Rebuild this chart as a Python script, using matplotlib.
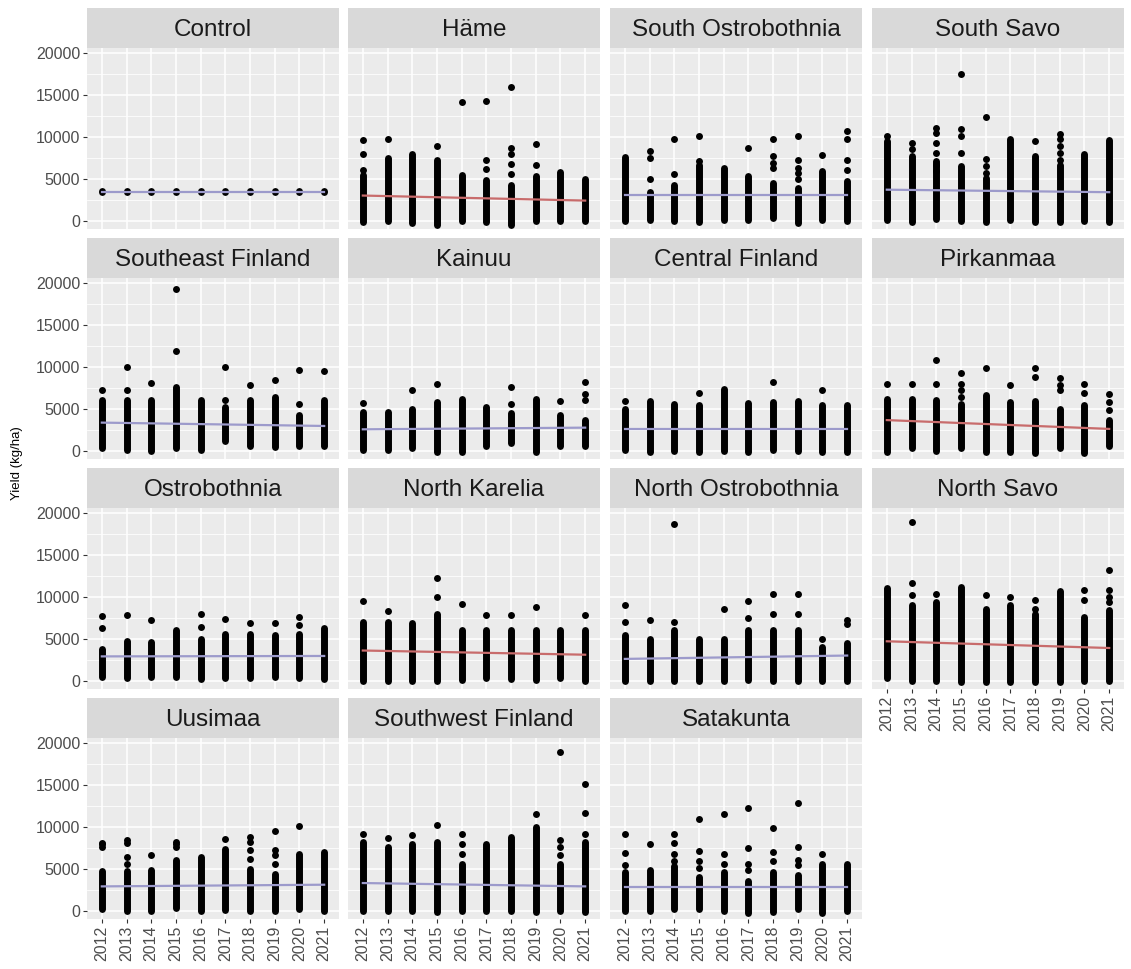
import matplotlib
matplotlib.use("Agg")
import matplotlib.pyplot as plt

plt.rcParams["font.family"] = ["Liberation Sans", "DejaVu Sans"]

years = [2012, 2013, 2014, 2015, 2016, 2017, 2018, 2019, 2020, 2021]
regions = ["Control", "Häme", "South Ostrobothnia", "South Savo",
           "Southeast Finland", "Kainuu", "Central Finland", "Pirkanmaa",
           "Ostrobothnia", "North Karelia", "North Ostrobothnia", "North Savo",
           "Uusimaa", "Southwest Finland", "Satakunta"]

# dense run of farm yields per year: lowest and highest value of the solid column
col_lo = {
    "Control": [3400, 3400, 3400, 3400, 3400, 3400, 3400, 3400, 3400, 3400],
    "Häme": [-100, 0, -300, -500, 0, -200, -500, 0, 0, 0],
    "South Ostrobothnia": [0, 100, 0, -200, 100, 100, 300, -300, 100, 0],
    "South Savo": [100, -100, 200, 0, -100, 100, -100, -200, 0, -200],
    "Southeast Finland": [300, 100, 0, 300, 100, 1100, 600, 400, 600, 600],
    "Kainuu": [100, 100, 300, -100, -200, 600, 900, -200, 600, 600],
    "Central Finland": [100, -200, 0, -200, 0, -100, 100, 0, -100, -200],
    "Pirkanmaa": [-100, 300, 0, 300, -200, -200, -300, 300, -300, 600],
    "Ostrobothnia": [400, 300, 500, 400, 200, 300, 300, 500, 300, 200],
    "North Karelia": [0, 0, 0, 0, 100, 300, 200, 100, 300, 0],
    "North Ostrobothnia": [0, 0, 0, 0, 0, 100, 0, 0, 0, 0],
    "North Savo": [300, 0, 0, -200, -200, -100, -200, -200, 0, 0],
    "Uusimaa": [200, 0, 0, 300, 0, 100, 0, 0, 200, 0],
    "Southwest Finland": [0, 0, 0, -200, 0, 0, 0, -200, 0, -200],
    "Satakunta": [0, 0, 200, 200, 0, -300, -200, 200, -300, 0],
}
col_hi = {
    "Control": [3500, 3500, 3500, 3500, 3500, 3500, 3500, 3500, 3500, 3500],
    "Häme": [5500, 7500, 7900, 7300, 5500, 4900, 4300, 5300, 5800, 5000],
    "South Ostrobothnia": [7600, 3400, 4300, 6600, 6300, 5300, 4500, 3900, 5900, 4700],
    "South Savo": [9500, 7700, 7100, 6500, 5100, 9800, 7700, 6700, 7900, 9600],
    "Southeast Finland": [6000, 6000, 6000, 7600, 6000, 5200, 6000, 6400, 4300, 6000],
    "Kainuu": [4600, 4600, 5000, 5800, 6200, 5200, 4500, 6200, 4300, 3700],
    "Central Finland": [5000, 5900, 5600, 5400, 7400, 5700, 5800, 5900, 5400, 5400],
    "Pirkanmaa": [6200, 6200, 6000, 5600, 6600, 5800, 5900, 5000, 5400, 3700],
    "Ostrobothnia": [3800, 4700, 4600, 6000, 5000, 5600, 5600, 5400, 5600, 6300],
    "North Karelia": [7000, 7000, 6900, 8000, 6000, 6000, 6000, 6000, 6000, 6000],
    "North Ostrobothnia": [5500, 5000, 6000, 5000, 5000, 6000, 6000, 6000, 4000, 4500],
    "North Savo": [11000, 9000, 9400, 11200, 8600, 9000, 8000, 10700, 7600, 8400],
    "Uusimaa": [4700, 4700, 4800, 6000, 6400, 7400, 5000, 4400, 6800, 7000],
    "Southwest Finland": [8200, 7600, 7900, 8200, 5600, 8000, 8800, 10000, 5600, 8200],
    "Satakunta": [4600, 4800, 5300, 4000, 4600, 3600, 4600, 4200, 5600, 5600],
}
# single yields standing apart from the column
extra = {
    "Control": [[], [], [], [], [], [], [], [], [], []],
    "Häme": [[6100, 8000, 9600], [9700], [], [8900], [14100], [6200, 7300, 14300],
             [5600, 6800, 8000, 8700, 15900], [6700, 9100], [], []],
    "South Ostrobothnia": [[], [5000, 7500, 8300], [5600, 9700], [7100, 10100], [], [8700],
                           [6300, 6900, 7700, 9700], [5000, 5700, 6300, 7300, 10100], [7800],
                           [6000, 7300, 9700, 10700]],
    "South Savo": [[10100], [8500, 9300], [5900, 6700, 8100, 9300, 10500, 11000],
                   [8100, 10100, 10900, 17500], [5700, 6500, 7400, 12400], [], [9500],
                   [7300, 8100, 8900, 9700, 10300], [], []],
    "Southeast Finland": [[7200], [7300, 10000], [8100], [11900, 19300], [], [6000, 10000],
                          [7800], [8400], [5600, 9600], [9500]],
    "Kainuu": [[5700], [], [7300], [8000], [], [], [5600, 7600], [], [5900], [6100, 6800, 8200]],
    "Central Finland": [[5900], [], [], [6900], [], [], [8200], [], [7200], []],
    "Pirkanmaa": [[7900], [7900], [7900, 10800], [6400, 7300, 7900, 9300], [9900], [7800],
                  [8800, 9900], [7200, 7800, 8700], [6900, 8000], [4800, 5800, 6800]],
    "Ostrobothnia": [[6300, 7700], [7800], [7300], [], [6400, 8000], [7400], [6900], [6900],
                     [6600, 7600], []],
    "North Karelia": [[9500], [8300], [], [10000, 12200], [9200], [7800], [7800], [8800], [],
                      [7800]],
    "North Ostrobothnia": [[7000, 9000], [7300], [7000, 18700], [], [8500], [7500, 9500],
                           [8000, 10300], [8000, 10300], [5000], [6800, 7300]],
    "North Savo": [[], [10200, 11600, 18900], [10300], [], [10200], [10000], [8600, 9600], [],
                   [9600, 10800], [9400, 10000, 10800, 13200]],
    "Uusimaa": [[7600, 7900, 8100], [5600, 6400, 8100, 8400], [6700], [7600, 7900, 8200], [],
                [8600], [6200, 7200, 8200, 8800], [5600, 6700, 7200, 9500], [10100], []],
    "Southwest Finland": [[9100], [8700], [9000], [10200], [6800, 7900, 9100], [], [],
                          [11500], [6600, 7600, 8400, 18900], [9200, 11700, 15100]],
    "Satakunta": [[5500, 6900, 9100], [7900], [5900, 6800, 8100, 9100], [5100, 5900, 7100, 10900],
                  [5600, 6800, 11500], [4900, 5600, 7500, 12300], [5900, 7000, 9900],
                  [5400, 6100, 7600, 12800], [6800], []],
}
# fitted trend at 2012 and 2021, and whether it is significant
trend = {
    "Control": (3450, 3450), "Häme": (3000, 2400), "South Ostrobothnia": (3050, 3050),
    "South Savo": (3700, 3400), "Southeast Finland": (3350, 2950), "Kainuu": (2550, 2750),
    "Central Finland": (2550, 2550), "Pirkanmaa": (3650, 2600), "Ostrobothnia": (2900, 2950),
    "North Karelia": (3600, 3100), "North Ostrobothnia": (2600, 3000), "North Savo": (4700, 3900),
    "Uusimaa": (2900, 3100), "Southwest Finland": (3300, 2900), "Satakunta": (2800, 2800),
}
significant = ["Häme", "Pirkanmaa", "North Karelia", "North Savo"]

W, H = 1131, 969
fig = plt.figure(figsize=(W / 100, H / 100), dpi=100)


def px_axes(x, y, w, h):
    return fig.add_axes([x / W, 1 - (y + h) / H, w / W, h / H])


col_x = [87, 348, 610, 872]
row_y = [48, 278, 508, 738]
pw, ph, sh = 252, 181, 40
dot = 5.0

for i, name in enumerate(regions):
    r, c = divmod(i, 4)
    ax = px_axes(col_x[c], row_y[r], pw, ph)
    ax.set_facecolor("#EBEBEB")
    for s in ax.spines.values():
        s.set_visible(False)
    ax.set_xlim(2011.4, 2021.6)
    ax.set_ylim(-990, 20600)
    ax.set_xticks(years)
    ax.set_xticklabels([str(y) for y in years], rotation=90)
    ax.set_yticks([0, 5000, 10000, 15000, 20000])
    ax.set_yticks([2500, 7500, 12500, 17500], minor=True)
    ax.grid(True, which="major", color="white", lw=1.1)
    ax.grid(True, which="minor", axis="y", color="white", lw=0.55)
    ax.set_axisbelow(True)
    ax.tick_params(which="both", length=3, width=0.8, color="#333333",
                   labelsize=11.5, labelcolor="#4D4D4D", pad=2)
    ax.tick_params(which="minor", left=False)
    if c != 0:
        ax.tick_params(left=False, labelleft=False)
    if not (r == 3 or (r == 2 and c == 3)):
        ax.tick_params(bottom=False, labelbottom=False)

    ax.vlines(years, col_lo[name], col_hi[name], colors="black",
              linewidth=dot, capstyle="round", zorder=2)
    xs = [y for y, vals in zip(years, extra[name]) for _ in vals]
    ys = [v for vals in extra[name] for v in vals]
    ax.plot(xs, ys, "o", color="black", ms=dot, mew=0, zorder=2)

    colour = "#C86B6B" if name in significant else "#9C9ACB"
    ax.plot([years[0], years[-1]], trend[name], color=colour, lw=1.6, zorder=3)

    st = px_axes(col_x[c], row_y[r] - sh, pw, sh)
    st.set_facecolor("#D9D9D9")
    st.set_xticks([])
    st.set_yticks([])
    for s in st.spines.values():
        s.set_visible(False)
    st.text(0.5, 0.45, name, ha="center", va="center", fontsize=17.5,
            color="#1A1A1A", transform=st.transAxes)

fig.text(17 / W, 1 - 463 / H, "Yield (kg/ha)", rotation=90, ha="center",
         va="center", fontsize=9.5, color="black")

fig.savefig("out.png", dpi=100)
